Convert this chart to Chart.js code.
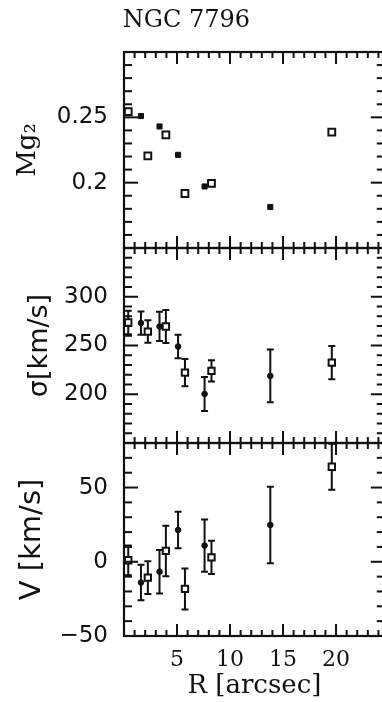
<!DOCTYPE html>
<html><head><meta charset="utf-8">
<script src="https://cdn.jsdelivr.net/npm/chart.js@4.4.0/dist/chart.umd.min.js"></script>
<style>
html,body{margin:0;padding:0;background:#fff;overflow:hidden;width:382px;height:702px;}
#wrap{position:absolute;left:-12px;top:0;width:404px;height:702px;}
canvas{display:block;}
</style></head><body>
<div id="wrap"><canvas id="c" width="404" height="702"></canvas></div>
<script>
// ---- data ----
const TITLE = 'NGC 7796';
const R_FILLED = [1.6, 3.35, 5.1, 7.6, 13.8];
const R_OPEN = [0.4, 2.25, 3.95, 5.75, 8.25, 19.6];
const MG2_FILLED = [0.251, 0.243, 0.2213, 0.1971, 0.1814];
const MG2_OPEN = [0.2544, 0.2205, 0.2366, 0.1917, 0.1994, 0.2386];
const SIG_FILLED = [273, 269.5, 249, 200.3, 218.8];
const SIG_FILLED_ERR = [12, 15, 12, 17.5, 27];
const SIG_OPEN = [273.6, 264.3, 269.5, 222.2, 224, 232.5];
const SIG_OPEN_ERR = [12, 11.6, 17, 14, 11, 17];
const V_FILLED = [-14, -6.7, 21.4, 10.9, 24.8];
const V_FILLED_ERR = [12, 14.6, 12.3, 17.6, 25.8];
const V_OPEN = [1, -10.7, 7.3, -18.3, 3, 64];
const V_OPEN_ERR = [10, 11, 17, 13.8, 11.2, 15.5];
const X_TICK_LABELS = [5, 10, 15, 20];
const MG2_TICK_LABELS = [0.2, 0.25];
const SIG_TICK_LABELS = [200, 250, 300];
const V_TICK_LABELS = [-50, 0, 50];

const INK = '#111';
function pts(xs, ys) { return xs.map((x, i) => ({x: x, y: ys[i]})); }
function labelCb(list) {
  return function (v) {
    const t = list.find(a => Math.abs(a - v) < 1e-9);
    if (t === undefined) return '';
    return t < 0 ? '\u2212' + Math.abs(t) : String(t);
  };
}

// minor/major tick definitions (steps, in data units)
const TICKS = {
  x:    {min: 0, max: 24.6, minor: 1, major: 5},
  yMg:  {min: 0.15, max: 0.30, minor: 0.01, major: 0.05},
  ySig: {min: 150, max: 350, minor: 10, major: 50},
  yV:   {min: -50, max: 80, minor: 10, major: 50}
};

const framePlugin = {
  id: 'frameTicks',
  beforeDatasetsDraw(chart) {
    const ctx = chart.ctx;
    ctx.save();
    ctx.strokeStyle = INK;
    ctx.lineWidth = 2;
    chart.data.datasets.forEach((ds) => {
      if (!ds.errors) return;
      const xs = chart.scales.x, ys = chart.scales[ds.yAxisID];
      ds.data.forEach((p, i) => {
        const e = ds.errors[i];
        const px = xs.getPixelForValue(p.x);
        const y1 = ys.getPixelForValue(p.y + e);
        const y2 = ys.getPixelForValue(p.y - e);
        ctx.beginPath();
        ctx.moveTo(px, y1); ctx.lineTo(px, y2);
        ctx.moveTo(px - 3.5, y1); ctx.lineTo(px + 3.5, y1);
        ctx.moveTo(px - 3.5, y2); ctx.lineTo(px + 3.5, y2);
        ctx.stroke();
      });
    });
    ctx.restore();
  },
  afterDraw(chart) {
    const ctx = chart.ctx;
    const xs = chart.scales.x;
    const L = xs.left, R = xs.right;
    ctx.save();
    ctx.fillStyle = INK;
    ctx.strokeStyle = INK;
    const W = 2;
    ['yMg', 'ySig', 'yV'].forEach(id => {
      const ys = chart.scales[id];
      const T = ys.top, B = ys.bottom;
      ctx.lineWidth = 2.2;
      ctx.strokeRect(L, T, R - L, B - T);
      // y ticks (left and right, pointing inward)
      const ty = TICKS[id];
      const n = Math.round((ty.max - ty.min) / ty.minor);
      for (let k = 0; k <= n; k++) {
        const v = ty.min + k * ty.minor;
        const isMajor = Math.abs(Math.round(v / ty.major) * ty.major - v) < ty.minor * 1e-3;
        const len = isMajor ? 14 : 8;
        const p = ys.getPixelForValue(v);
        ctx.fillRect(L, p - W / 2, len, W);
        ctx.fillRect(R - len, p - W / 2, len, W);
      }
      // x ticks on top and bottom edge of this panel
      const tx = TICKS.x;
      const m = Math.floor((tx.max - tx.min) / tx.minor + 1e-9);
      for (let k = 0; k <= m; k++) {
        const v = tx.min + k * tx.minor;
        const isMajor = (k % Math.round(tx.major / tx.minor)) === 0;
        const len = isMajor ? 12 : 6;
        const p = xs.getPixelForValue(v);
        ctx.fillRect(p - W / 2, T, W, len);
        ctx.fillRect(p - W / 2, B - len, W, len);
      }
    });
    ctx.restore();
  }
};

const yCommon = (id, labels, title, titleFont, titlePad, weight) => ({
  type: 'linear', position: 'left', stack: 'panels', stackWeight: weight,
  min: TICKS[id].min, max: TICKS[id].max,
  grid: {display: false, drawTicks: false}, border: {display: false},
  ticks: {stepSize: TICKS[id].major, includeBounds: false, autoSkip: false, padding: 16, color: INK,
    font: {family: 'DejaVu Sans', size: 23}, callback: labelCb(labels)},
  title: {display: true, text: title, color: INK, font: titleFont, padding: {top: titlePad, bottom: 0}},
  afterFit(s) { s.width = 136; }
});

new Chart(document.getElementById('c'), {
  type: 'scatter',
  data: {
    datasets: [
      {label: 'Mg2 (filled)', data: pts(R_FILLED, MG2_FILLED), yAxisID: 'yMg', pointStyle: 'rect', pointRadius: 3.6, backgroundColor: INK, borderColor: INK, borderWidth: 1},
      {label: 'Mg2 (open)', data: pts(R_OPEN, MG2_OPEN), yAxisID: 'yMg', pointStyle: 'rect', pointRadius: 4.8, backgroundColor: '#fff', borderColor: INK, borderWidth: 2},
      {label: 'sigma (filled)', data: pts(R_FILLED, SIG_FILLED), errors: SIG_FILLED_ERR, yAxisID: 'ySig', pointStyle: 'circle', pointRadius: 2.8, backgroundColor: INK, borderColor: INK, borderWidth: 1},
      {label: 'sigma (open)', data: pts(R_OPEN, SIG_OPEN), errors: SIG_OPEN_ERR, yAxisID: 'ySig', pointStyle: 'rect', pointRadius: 4.5, backgroundColor: '#fff', borderColor: INK, borderWidth: 2},
      {label: 'V (filled)', data: pts(R_FILLED, V_FILLED), errors: V_FILLED_ERR, yAxisID: 'yV', pointStyle: 'circle', pointRadius: 2.8, backgroundColor: INK, borderColor: INK, borderWidth: 1},
      {label: 'V (open)', data: pts(R_OPEN, V_OPEN), errors: V_OPEN_ERR, yAxisID: 'yV', pointStyle: 'rect', pointRadius: 4.5, backgroundColor: '#fff', borderColor: INK, borderWidth: 2}
    ]
  },
  options: {
    responsive: false, animation: false, devicePixelRatio: 1,
    layout: {padding: {left: 0, right: 7.2, top: 0, bottom: 0}},
    plugins: {
      legend: {display: false}, tooltip: {enabled: false},
      title: {display: true, text: TITLE, color: INK, font: {family: 'DejaVu Serif', size: 24, weight: 'normal'}, padding: {top: 6.5, bottom: 16.7}}
    },
    scales: {
      x: {type: 'linear', position: 'bottom', min: TICKS.x.min, max: TICKS.x.max,
        grid: {display: false, drawTicks: false}, border: {display: false},
        ticks: {stepSize: TICKS.x.major, includeBounds: false, autoSkip: false, maxRotation: 0, padding: 11, color: INK,
          font: {family: 'DejaVu Serif', size: 22}, callback: labelCb(X_TICK_LABELS)},
        title: {display: true, text: 'R [arcsec]', color: INK, font: {family: 'DejaVu Serif', size: 26}, padding: {top: 0, bottom: 0}},
        afterFit(s) { s.height = 66; }
      },
      yV: yCommon('yV', V_TICK_LABELS, 'V [km/s]', {family: 'DejaVu Sans', size: 29}, 26.6, 193),
      ySig: yCommon('ySig', SIG_TICK_LABELS, 'σ[km/s]', {family: 'DejaVu Sans', size: 27}, 35.8, 195),
      yMg: yCommon('yMg', MG2_TICK_LABELS, 'Mg₂', {family: 'DejaVu Serif', size: 26}, 24.4, 196)
    }
  },
  plugins: [framePlugin]
});
</script>
</body></html>
